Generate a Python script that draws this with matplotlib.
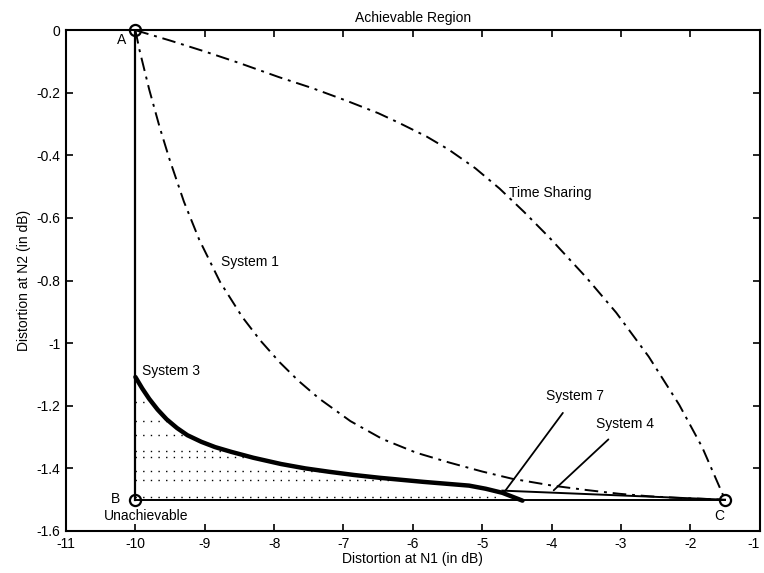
import matplotlib
matplotlib.use("Agg")
import matplotlib.pyplot as plt

plt.rcParams['font.family'] = ['Liberation Sans', 'DejaVu Sans']

# ---- data ----
pt_A = (-10.0, 0.0)
pt_B = (-10.0, -1.5)
pt_C = (-1.5, -1.5)

ts_x = [-10.0, -9.5, -9.0, -8.5, -7.93, -7.45, -6.96, -6.5, -6.2, -5.8, -5.48, -5.1,
        -4.75, -4.4, -4.03, -3.5, -3.07, -2.6, -2.16, -1.83, -1.5]
ts_y = [0.0, -0.033, -0.068, -0.105, -0.150, -0.185, -0.225, -0.265, -0.296, -0.340,
        -0.382, -0.441, -0.506, -0.580, -0.663, -0.790, -0.902, -1.043, -1.197, -1.332, -1.5]

s1_x = [-10.0, -9.94, -9.8, -9.65, -9.51, -9.3, -9.08, -8.78, -8.46, -8.2, -7.92, -7.65,
        -7.35, -6.9, -6.44, -5.95, -5.48, -5.0, -4.57, -3.99, -3.5, -3.03, -2.6, -2.2, -1.5]
s1_y = [0.0, -0.064, -0.19, -0.31, -0.411, -0.548, -0.669, -0.804, -0.916, -0.991, -1.061,
        -1.12, -1.177, -1.249, -1.306, -1.35, -1.381, -1.41, -1.433, -1.455, -1.469, -1.481,
        -1.489, -1.494, -1.5]

s3_x = [-10.0, -9.9, -9.8, -9.68, -9.55, -9.4, -9.25, -9.05, -8.85, -8.62, -8.3, -7.9,
        -7.55, -7.2, -6.85, -6.48, -5.85, -5.19, -4.95, -4.71, -4.42]
s3_y = [-1.108, -1.145, -1.178, -1.212, -1.243, -1.271, -1.294, -1.315, -1.332, -1.347,
        -1.366, -1.386, -1.400, -1.411, -1.421, -1.430, -1.443, -1.455, -1.465, -1.478, -1.503]

s4_x = [-4.71, -1.5]
s4_y = [-1.471, -1.5]

row_y = [-1.189, -1.247, -1.293, -1.346, -1.364, -1.408, -1.438, -1.490]
row_end = [-9.75, -9.52, -9.27, -8.64, -8.30, -7.20, -6.30, -4.80]

xticks = [-11, -10, -9, -8, -7, -6, -5, -4, -3, -2, -1]
xticklabels = ['-11', '-10', '-9', '-8', '-7', '-6', '-5', '-4', '-3', '-2', '-1']
yticks = [0, -0.2, -0.4, -0.6, -0.8, -1.0, -1.2, -1.4, -1.6]
yticklabels = ['0', '-0.2', '-0.4', '-0.6', '-0.8', '-1', '-1.2', '-1.4', '-1.6']

fig = plt.figure(figsize=(7.64, 5.73), dpi=100)
ax = fig.add_axes([0.0864, 0.0733, 0.908, 0.874])

dashdot = (0, (7, 3, 1.5, 3))

# boundary lines
ax.plot([pt_A[0], pt_B[0]], [pt_A[1], pt_B[1]], color='black', lw=1.6)
ax.plot([pt_B[0], pt_C[0]], [pt_B[1], pt_C[1]], color='black', lw=1.4)

# dotted rows
for yv, xe in zip(row_y, row_end):
    ax.plot([-10.0, xe], [yv, yv], color='black', lw=1.0, linestyle=(0, (1, 4.5)))

# curves
ax.plot(ts_x, ts_y, color='black', lw=1.4, linestyle=dashdot)
ax.plot(s1_x, s1_y, color='black', lw=1.4, linestyle=dashdot)
ax.plot(s3_x, s3_y, color='black', lw=3.2, solid_capstyle='round', solid_joinstyle='round')
ax.plot(s4_x, s4_y, color='black', lw=1.4)

# points
for p in (pt_A, pt_B, pt_C):
    ax.plot(p[0], p[1], marker='o', ms=8, mfc='none', mec='black', mew=1.6, clip_on=False)

fs = 10
ax.text(-10.2, -0.03, 'A', fontsize=fs, ha='center', va='center')
ax.text(-10.29, -1.497, 'B', fontsize=fs, ha='center', va='center')
ax.text(-9.85, -1.551, 'Unachievable', fontsize=fs, ha='center', va='center')
ax.text(-1.58, -1.551, 'C', fontsize=fs, ha='center', va='center')
ax.text(-4.61, -0.519, 'Time Sharing', fontsize=fs, ha='left', va='center')
ax.text(-8.76, -0.742, 'System 1', fontsize=fs, ha='left', va='center')
ax.text(-9.91, -1.09, 'System 3', fontsize=fs, ha='left', va='center')

ax.annotate('System 7', xy=(-4.68, -1.475), xytext=(-4.08, -1.170), fontsize=fs,
            ha='left', va='center',
            arrowprops=dict(arrowstyle='-', color='black', lw=1.3, shrinkA=6, shrinkB=0))
ax.annotate('System 4', xy=(-3.97, -1.47), xytext=(-3.36, -1.258), fontsize=fs,
            ha='left', va='center',
            arrowprops=dict(arrowstyle='-', color='black', lw=1.3, shrinkA=6, shrinkB=0))

ax.set_xlim(-11, -1)
ax.set_ylim(-1.6, 0)
ax.set_xticks(xticks)
ax.set_xticklabels(xticklabels)
ax.set_yticks(yticks)
ax.set_yticklabels(yticklabels)
ax.tick_params(direction='in', length=5, width=1.2, top=True, right=True, labelsize=fs, pad=4)
ax.get_xticklabels()[-1].set_horizontalalignment('right')
for sp in ax.spines.values():
    sp.set_linewidth(1.5)

ax.set_title('Achievable Region', fontsize=fs, pad=6)
ax.set_xlabel('Distortion at N1 (in dB)', fontsize=fs, labelpad=1)
ax.set_ylabel('Distortion at N2 (in dB)', fontsize=fs, labelpad=4)

fig.savefig('out.png', dpi=100)
